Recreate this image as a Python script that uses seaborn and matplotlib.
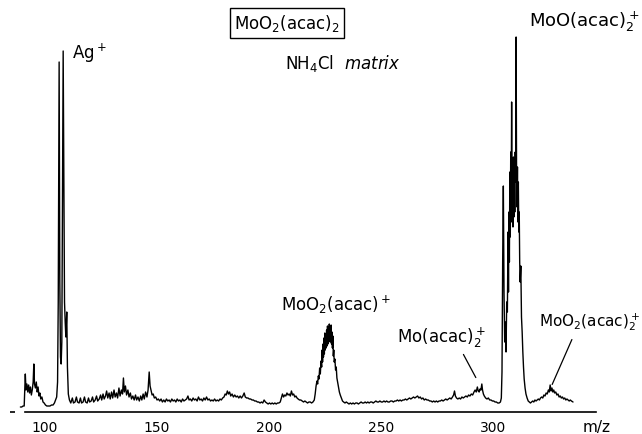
import numpy as np
import pandas as pd
import matplotlib
matplotlib.use("Agg")
import matplotlib.pyplot as plt
import seaborn as sns

# ---------------- data ----------------
# m/z positions and trace heights (arbitrary units) by region
mz_start = [89.0, 89.6, 90.2, 90.7, 91.0, 91.2, 91.5, 91.9, 92.3, 92.7, 93.1, 93.5, 93.9, 94.3, 94.7,
            95.0, 95.3, 95.7, 96.1, 96.5, 96.9, 97.3, 97.7, 98.1, 98.6, 99.1, 99.6, 100.2, 100.8,
            101.5, 102.2, 102.9, 103.6, 104.2, 104.7, 105.2]
in_start = [5, 5, 6, 6, 24, 38, 22, 28, 20, 27, 19, 25, 17, 22, 30,
            48, 28, 24, 30, 20, 25, 16, 19, 13, 15, 10, 9, 7, 6,
            6, 6, 7, 7, 9, 12, 15]

mz_ag = [105.6, 105.9, 106.3, 106.6, 106.9, 107.2, 107.5, 107.8, 108.1, 108.4, 108.7, 109.0,
         109.3, 109.7, 110.0, 110.4, 110.9]
in_ag = [30, 110, 350, 130, 55, 48, 70, 210, 361, 230, 110, 90,
         75, 100, 45, 18, 12]

mz_low = [111.5, 112.2, 112.7, 113.4, 114.0, 114.5, 115.2, 115.8, 116.3, 117.0, 117.6, 118.1,
          118.8, 119.4, 119.9, 120.6, 121.2, 121.7, 122.4, 123.0, 123.5, 124.2, 124.8,
          125.3, 125.9, 126.4, 127.0, 127.5, 128.0, 128.6, 129.1, 129.7, 130.2, 130.8, 131.3,
          131.9, 132.4, 133.0, 133.5, 134.1, 134.6, 135.0, 135.4, 135.9, 136.4, 137.0, 137.5,
          138.1, 138.6, 139.2, 139.8, 140.4, 140.9, 141.5, 142.1, 142.7, 143.2, 143.8, 144.3,
          144.9, 145.5, 146.0, 146.5, 146.9, 147.3, 147.8, 148.3, 148.8, 149.4, 150.0]
in_low = [9, 14, 9, 10, 15, 10, 9, 14, 9, 10, 15, 10,
          9, 14, 10, 11, 15, 10, 12, 16, 11, 13, 17,
          12, 18, 13, 16, 21, 14, 19, 13, 20, 14, 22, 15,
          19, 14, 24, 16, 22, 18, 34, 20, 26, 17, 22, 15,
          19, 13, 16, 12, 17, 12, 15, 11, 16, 12, 18, 13,
          20, 15, 22, 40, 26, 22, 17, 18, 14, 15, 12]

mz_mid = [150.6, 151.2, 151.8, 152.4, 153.0, 153.6, 154.2, 154.8, 155.4, 156.0, 156.6, 157.2,
          157.8, 158.4, 159.0, 159.6, 160.2, 160.8, 161.4, 162.0, 162.6, 163.2, 163.8, 164.3,
          164.9, 165.5, 166.1, 166.7, 167.3, 167.9, 168.5, 169.1, 169.7, 170.3, 170.9, 171.5,
          172.1, 172.7, 173.3, 173.9, 174.5, 175.1, 175.7, 176.3, 176.9, 177.5, 178.1, 178.7,
          179.3, 179.9, 180.4, 180.9, 181.4, 181.9, 182.4, 182.9, 183.5, 184.1, 184.7, 185.3,
          185.9, 186.5, 187.1, 187.7, 188.3, 188.9, 189.4, 190.0, 190.6, 191.2, 191.8, 192.4,
          193.0, 193.6, 194.2, 194.8, 195.4, 196.0, 196.6, 197.2, 197.8, 198.4, 199.0, 199.6,
          200.2, 200.8, 201.4, 202.0, 202.6, 203.2, 203.8, 204.4, 205.0, 205.5, 206.0, 206.5,
          207.0, 207.5, 208.0, 208.5, 209.0, 209.5, 210.0, 210.5, 211.0, 211.5, 212.0, 212.5,
          213.0, 213.6, 214.2, 214.8, 215.4, 216.0, 216.6, 217.2, 217.8, 218.4, 219.0, 219.6]
in_mid = [13, 11, 13, 10, 12, 10, 13, 11, 12, 10, 13, 11,
          12, 10, 13, 11, 12, 10, 13, 11, 12, 13, 16, 12,
          13, 11, 14, 12, 13, 11, 15, 12, 13, 11, 14, 12,
          15, 12, 13, 11, 12, 11, 13, 11, 12, 11, 13, 12,
          14, 15, 18, 17, 21, 18, 20, 16, 18, 15, 17, 15,
          16, 14, 16, 14, 16, 19, 15, 14, 14, 13, 13, 12,
          12, 11, 11, 10, 10, 9, 10, 9, 12, 10, 9, 8,
          9, 8, 9, 8, 9, 8, 9, 9, 10, 14, 18, 15,
          17, 16, 19, 17, 18, 16, 21, 17, 18, 15, 16, 14,
          13, 12, 12, 11, 10, 11, 10, 9, 10, 10, 9, 10]

mz_moo2acac = [220.2, 220.6, 221.0, 221.4, 221.7, 222.0, 222.3, 222.6, 222.9, 223.2, 223.5, 223.7,
               223.9, 224.1, 224.3, 224.5, 224.7, 224.9, 225.1, 225.3, 225.5, 225.7, 225.9, 226.1,
               226.3, 226.5, 226.7, 226.9, 227.1, 227.3, 227.5, 227.7, 227.9, 228.1, 228.3, 228.5,
               228.7, 228.9, 229.1, 229.4, 229.7, 230.0, 230.3, 230.6, 231.0, 231.4, 231.8, 232.3,
               232.8, 233.3]
in_moo2acac = [12, 18, 26, 31, 28, 36, 33, 44, 38, 51, 45, 62,
               50, 68, 55, 74, 58, 79, 62, 76, 64, 82, 66, 86,
               68, 80, 70, 88, 72, 84, 70, 87, 68, 80, 64, 76,
               56, 62, 50, 53, 42, 45, 34, 30, 25, 20, 17, 14,
               11, 10]

mz_high = [233.9, 234.5, 235.1, 235.7, 236.3, 236.9, 237.5, 238.1, 238.7, 239.3, 239.9, 240.5,
           241.1, 241.7, 242.3, 242.9, 243.5, 244.1, 244.7, 245.3, 245.9, 246.5, 247.1, 247.7,
           248.3, 248.9, 249.5, 250.1, 250.7, 251.3, 251.9, 252.5, 253.1, 253.7, 254.3, 254.9,
           255.5, 256.1, 256.7, 257.3, 257.9, 258.5, 259.1, 259.7, 260.3, 260.9, 261.5, 262.1,
           262.7, 263.3, 263.9, 264.5, 265.1, 265.7, 266.3, 266.9, 267.5, 268.1, 268.7, 269.3,
           269.9, 270.5, 271.1, 271.7, 272.3, 272.9, 273.5, 274.1, 274.7, 275.3, 275.9, 276.5,
           277.1, 277.7, 278.3, 278.9, 279.5, 280.1, 280.7, 281.3, 281.9, 282.4, 282.8, 283.2,
           283.7, 284.3, 284.9, 285.5, 286.1, 286.7, 287.3, 287.9, 288.5, 289.1, 289.7, 290.3,
           290.9, 291.5, 292.0, 292.5, 293.0, 293.4, 293.8, 294.2, 294.6, 295.0, 295.3, 295.7,
           296.1, 296.7, 297.3, 297.9, 298.5, 299.1, 299.7, 300.3, 300.9, 301.5, 302.1, 302.7,
           303.3]
in_high = [9, 10, 9, 8, 9, 8, 9, 8, 9, 9, 8, 9,
           10, 9, 9, 10, 9, 10, 9, 10, 10, 9, 10, 11,
           10, 10, 11, 10, 10, 11, 10, 11, 10, 10, 11, 11,
           10, 11, 11, 12, 11, 12, 11, 12, 12, 13, 12, 13,
           14, 13, 14, 15, 14, 15, 16, 14, 15, 13, 14, 12,
           13, 12, 12, 11, 11, 10, 11, 10, 11, 10, 11, 11,
           12, 11, 12, 13, 12, 13, 14, 13, 15, 17, 21, 16,
           14, 13, 14, 13, 15, 14, 15, 16, 15, 17, 16, 18,
           17, 20, 22, 20, 25, 21, 20, 23, 22, 28, 22, 18,
           16, 14, 13, 14, 12, 12, 11, 11, 10, 10, 9, 9,
           10]

mz_mooacac2 = [303.7, 304.0, 304.3, 304.6, 304.9, 305.2, 305.5, 305.8, 306.1, 306.4, 306.7, 306.9,
               307.1, 307.3, 307.5, 307.7, 307.9, 308.1, 308.3, 308.5, 308.7, 308.9, 309.1, 309.3,
               309.5, 309.7, 309.9, 310.1, 310.3, 310.5, 310.7, 310.9, 311.1, 311.3, 311.5, 311.7,
               311.9, 312.1, 312.4, 312.7, 313.0, 313.3, 313.6, 313.9, 314.3, 314.7, 315.2, 315.7,
               316.2, 316.7, 317.2]
in_mooacac2 = [14, 40, 150, 226, 120, 70, 90, 60, 110, 100, 180, 120,
               200, 150, 240, 175, 260, 190, 310, 200, 250, 185, 255, 195,
               240, 200, 260, 230, 375, 240, 205, 245, 190, 230, 180, 200,
               150, 130, 146, 95, 80, 60, 45, 33, 24, 18, 14, 11,
               10, 9, 10]

mz_end = [317.7, 318.2, 318.7, 319.2, 319.7, 320.2, 320.7, 321.2, 321.7, 322.2, 322.7, 323.2,
          323.7, 324.2, 324.7, 325.1, 325.5, 325.9, 326.3, 326.7, 327.1, 327.5, 328.0, 328.5,
          329.0, 329.5, 330.0, 330.5, 331.0, 331.5, 332.0, 332.5, 333.0, 333.5, 334.0, 334.5,
          335.0, 335.7]
in_end = [11, 10, 12, 11, 12, 13, 12, 14, 15, 14, 17, 16,
          19, 18, 22, 20, 27, 21, 24, 20, 22, 19, 20, 17,
          18, 15, 16, 14, 15, 13, 14, 12, 13, 12, 11, 12,
          11, 10]

tick_values = [100, 150, 200, 250, 300]
tick_labels = ["100", "150", "200", "250", "300"]

# ---------------- build frame ----------------
mz = mz_start + mz_ag + mz_low + mz_mid + mz_moo2acac + mz_high + mz_mooacac2 + mz_end
inten = in_start + in_ag + in_low + in_mid + in_moo2acac + in_high + in_mooacac2 + in_end
df = pd.DataFrame({"mz": mz, "intensity": inten})

# ---------------- figure ----------------
sns.set_style("white")
plt.rcParams["font.family"] = ["DejaVu Sans"]
plt.rcParams["mathtext.fontset"] = "dejavusans"
plt.rcParams["text.color"] = "black"
plt.rcParams["xtick.color"] = "black"

fig = plt.figure(figsize=(6.42, 4.35), dpi=100)
ax = fig.add_axes([0.0, 22 / 435, 1.0, 413 / 435])

sns.lineplot(data=df, x="mz", y="intensity", ax=ax, color="black", lw=1.0,
             estimator=None, sort=False)

ax.set_xlim(79.9, 366.5)
ax.set_ylim(0, 413)
ax.set_xlabel("")
ax.set_ylabel("")
ax.set_yticks([])
ax.set_xticks(tick_values)
ax.set_xticklabels(tick_labels, fontsize=10, color="black")
ax.tick_params(axis="x", length=0, pad=6)
for s in ["top", "right", "left"]:
    ax.spines[s].set_visible(False)
ax.spines["bottom"].set_bounds(91.0, 346.0)
ax.spines["bottom"].set_linewidth(1.2)
ax.spines["bottom"].set_color("black")
ax.hlines(0, 84.4, 86.6, color="black", lw=1.2, clip_on=False)

fs = 12
ax.text(112.0, 360, r"Ag$^+$", fontsize=fs, ha="left", va="center")
ax.text(208.0, 389, r"MoO$_2$(acac)$_2$", fontsize=fs, ha="center", va="center",
        bbox=dict(boxstyle="square,pad=0.25", fc="white", ec="black", lw=1.0))
ax.text(233.0, 350, r"NH$_4$Cl  $\it{matrix}$", fontsize=fs, ha="center", va="center")
ax.text(365.6, 391, r"MoO(acac)$_2^+$", fontsize=13, ha="right", va="center")
ax.text(229.9, 108, r"MoO$_2$(acac)$^+$", fontsize=fs, ha="center", va="center")
ax.text(276.8, 75, r"Mo(acac)$_2^+$", fontsize=fs, ha="center", va="center")
ax.annotate("", xy=(292.9, 32), xytext=(286.2, 60),
            arrowprops=dict(arrowstyle="-", color="black", lw=0.9))
ax.text(365.6, 91, r"MoO$_2$(acac)$_2^+$", fontsize=11, ha="right", va="center")
ax.annotate("", xy=(325.9, 25), xytext=(335.7, 75),
            arrowprops=dict(arrowstyle="-", color="black", lw=0.9))
ax.text(346.4, -15, "m/z", fontsize=11, ha="center", va="center", clip_on=False)

fig.savefig("out.png", dpi=100)
